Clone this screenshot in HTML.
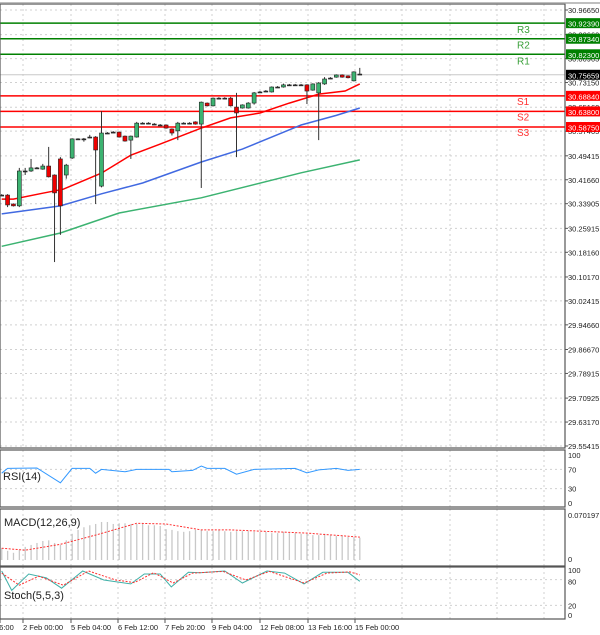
<!DOCTYPE html>
<html><head><meta charset="utf-8">
<style>
html,body{margin:0;padding:0;background:#fff;}
svg{display:block;font-family:"Liberation Sans",sans-serif;}
</style></head>
<body>
<svg id="c" width="600" height="635" viewBox="0 0 600 635" xmlns="http://www.w3.org/2000/svg"></svg>
<script>
// ---- data ----
const openP=[30.367,30.367,30.338,30.332,30.445,30.445,30.455,30.451,30.461,30.432,30.484,30.432,30.487,30.549,30.549,30.555,30.555,30.396,30.568,30.571,30.571,30.558,30.545,30.555,30.600,30.600,30.597,30.594,30.594,30.581,30.575,30.600,30.600,30.604,30.597,30.665,30.656,30.681,30.681,30.681,30.652,30.649,30.649,30.665,30.701,30.704,30.701,30.717,30.717,30.724,30.724,30.724,30.724,30.707,30.698,30.727,30.746,30.749,30.756,30.753,30.737,30.759];
const closeP=[30.367,30.335,30.332,30.445,30.445,30.455,30.455,30.461,30.426,30.374,30.332,30.464,30.549,30.549,30.549,30.555,30.513,30.568,30.568,30.571,30.555,30.542,30.558,30.600,30.600,30.600,30.597,30.594,30.584,30.568,30.600,30.600,30.600,30.597,30.668,30.656,30.681,30.681,30.681,30.656,30.633,30.659,30.665,30.698,30.701,30.704,30.717,30.717,30.724,30.724,30.724,30.724,30.704,30.727,30.730,30.743,30.746,30.756,30.749,30.747,30.766,30.759];
const highP=[30.370,30.370,30.340,30.455,30.455,30.484,30.458,30.468,30.523,30.434,30.490,30.468,30.551,30.551,30.552,30.562,30.558,30.639,30.571,30.574,30.573,30.560,30.560,30.604,30.603,30.603,30.600,30.597,30.596,30.583,30.604,30.603,30.603,30.606,30.670,30.667,30.683,30.684,30.684,30.685,30.698,30.661,30.668,30.701,30.704,30.707,30.719,30.720,30.728,30.727,30.727,30.727,30.726,30.729,30.733,30.749,30.749,30.758,30.758,30.755,30.768,30.779];
const lowP=[30.364,30.328,30.330,30.328,30.432,30.442,30.452,30.449,30.424,30.150,30.238,30.420,30.484,30.546,30.540,30.551,30.338,30.392,30.565,30.568,30.553,30.540,30.484,30.553,30.597,30.597,30.594,30.591,30.582,30.560,30.545,30.597,30.597,30.595,30.390,30.654,30.654,30.678,30.678,30.654,30.490,30.647,30.647,30.660,30.698,30.701,30.699,30.714,30.715,30.721,30.721,30.721,30.662,30.705,30.545,30.724,30.743,30.747,30.747,30.745,30.735,30.756];
const maRedIdx=[0,2,7,10.5,17,22,27,34,39,44,49,54,58.5,61];
const maRedVal=[30.354,30.354,30.373,30.386,30.438,30.496,30.532,30.584,30.617,30.633,30.665,30.694,30.704,30.727];
const maBlueIdx=[0,10,17,24,34,41,51,57,61];
const maBlueVal=[30.306,30.332,30.371,30.406,30.474,30.516,30.594,30.625,30.649];
const maGreenIdx=[0,10,20,34,51,61];
const maGreenVal=[30.201,30.244,30.309,30.358,30.439,30.481];
const levelNames=["R3","R2","R1","S1","S2","S3"];
const levelVals=[30.9239,30.8734,30.8230,30.6884,30.6380,30.5875];
const currentPrice=30.75659;
const priceTicks=[30.96650,30.88660,30.80905,30.73150,30.65160,30.57405,30.49415,30.41660,30.33905,30.25915,30.18160,30.10170,30.02415,29.94660,29.86670,29.78915,29.70925,29.63170,29.55415];
const rsiIdx=[0,1,6,10,12,15,16,17,21,23,28.5,29,32.5,34,35,38,40,43,50,52,54,57,59,61];
const rsiVal=[62,72,73,42,72,72,62,70,65,70,70,65,68,77,72,72,60,70,72,63,69,72,68,70];
const macdHist=[0.018,0.014,0.011,0.015,0.020,0.023,0.026,0.029,0.030,0.026,0.023,0.030,0.040,0.046,0.050,0.053,0.055,0.058,0.058,0.055,0.056,0.056,0.055,0.055,0.055,0.053,0.053,0.052,0.047,0.046,0.044,0.043,0.044,0.046,0.046,0.044,0.044,0.046,0.044,0.043,0.044,0.044,0.044,0.043,0.043,0.043,0.041,0.041,0.043,0.041,0.041,0.040,0.040,0.038,0.038,0.040,0.038,0.037,0.037,0.035,0.035,0.034];
const macdSigIdx=[0,4,10,16,23,28,34,39,52,61];
const macdSigVal=[0.018,0.015,0.024,0.038,0.056,0.055,0.046,0.046,0.041,0.035];
const stMainIdx=[0,1.7,4.6,7.6,10.2,13.8,17.4,22,24.3,27,28.9,31.8,33.8,38,41,45.2,48.2,51.5,54.7,59,61];
const stMainVal=[100,55,93,84,60,100,79,70,93,93,63,97,96,100,72,100,95,70,97,97,76];
const stSigIdx=[0,3,6.3,10.5,14.8,19.4,22.6,25.9,29.2,32.5,37.7,41.6,45.6,51.5,55.4,59.3,61];
const stSigVal=[95,67,88,67,100,79,73,96,72,95,99,79,99,72,95,98,91];
const timeLabels=["16:00","2 Feb 00:00","5 Feb 04:00","6 Feb 12:00","7 Feb 20:00","9 Feb 04:00","12 Feb 08:00","13 Feb 16:00","15 Feb 00:00"];

// ---- geometry ----
const NS="http://www.w3.org/2000/svg";
const svg=document.getElementById('c');
const R=565;
const xI=i=>1.7+i*5.87;
const yP=p=>10+(30.9665-p)*308.7;
const yRsi=v=>503-v*0.48;
const yMacd=v=>560-v/0.070197*46;
const ySt=v=>614-v*0.43;
function mk(tag,attrs,parent){const e=document.createElementNS(NS,tag);for(const k in attrs)e.setAttribute(k,attrs[k]);(parent||svg).appendChild(e);return e;}
function txt(s,x,y,attrs){const t=mk('text',Object.assign({x:x,y:y},attrs||{}));t.textContent=s;return t;}

// grid
const gV=mk('g',{});


const vx=[23,71,118,165,212,260,308,355,402,450,497,544];
vx.forEach(x=>{[[4,448],[450,507],[509,566],[567,619]].forEach(r=>mk('line',{x1:x,x2:x,y1:r[0],y2:r[1],stroke:'#d0d0d0','stroke-dasharray':'2,3','stroke-width':1},gV));});
priceTicks.forEach(p=>mk('line',{x1:0,x2:R,y1:yP(p),y2:yP(p),stroke:'#d0d0d0','stroke-dasharray':'2,3'},gV));
[70,30].forEach(v=>mk('line',{x1:0,x2:R,y1:yRsi(v),y2:yRsi(v),stroke:'#d0d0d0','stroke-dasharray':'2,3'},gV));
[80,20].forEach(v=>mk('line',{x1:0,x2:R,y1:ySt(v),y2:ySt(v),stroke:'#d0d0d0','stroke-dasharray':'2,3'},gV));

// level lines
levelVals.forEach((v,k)=>{
  const isR=levelNames[k][0]==='R';
  const col=isR?'#008000':'#ff0000';
  const l=mk('line',{x1:0,x2:R,y1:yP(v),y2:yP(v),stroke:col,'stroke-width':1.5});
  
  
  const t=txt(levelNames[k],517,yP(v)+(isR?10:9),{'font-size':10,fill:isR?'#3aa03a':'#ff3030'});
  
  
});
mk('line',{x1:0,x2:R,y1:yP(currentPrice),y2:yP(currentPrice),stroke:'#c8c8c8','stroke-width':1});

// MAs
function poly(idx,val,col,name,w){let d=idx.map((i,k)=>(k?'L':'M')+xI(i).toFixed(1)+','+yP(val[k]).toFixed(1)).join('');const p=mk('path',{d:d,fill:'none',stroke:col,'stroke-width':w});}
poly(maGreenIdx,maGreenVal,'#3cb371','ma-green',1.5);
poly(maBlueIdx,maBlueVal,'#4169e1','ma-blue',1.5);
poly(maRedIdx,maRedVal,'#ff0000','ma-red',1.5);

// candles
const gc=mk('g',{});


openP.forEach((o,i)=>{
  const x=xI(i),c=closeP[i];
  mk('line',{x1:x,x2:x,y1:yP(highP[i]),y2:yP(lowP[i]),stroke:'#333','stroke-width':1},gc);
  const top=yP(Math.max(o,c)),bot=yP(Math.min(o,c));
  const h=Math.max(bot-top,1);
  const b=mk('rect',{x:x-2,y:top,width:4,height:h,fill:c>o?'#3cb371':(c<o?'#ee0000':'#333'),stroke:'#222','stroke-width':0.6},gc);
  
  
});

// frames
[[4,448],[450,507],[509,566],[567,619]].forEach((r,k)=>{
  const f=mk('rect',{x:0,y:r[0],width:R,height:r[1]-r[0],fill:'none',stroke:'#555','stroke-width':1.2});
  
  
});
mk('line',{x1:0,x2:600,y1:3,y2:3,stroke:'#aaa','stroke-width':1.5});

// price axis labels
priceTicks.forEach(p=>{mk('line',{x1:R,x2:R+3,y1:yP(p),y2:yP(p),stroke:'#555'});const t=txt(p.toFixed(5),568,yP(p)+3,{'font-size':7.5,fill:'#222'});});
function tag(v,bg){const y=yP(v);mk('rect',{x:566,y:y-5,width:34,height:10,fill:bg});const t=txt(v.toFixed(5),568,y+3.5,{'font-size':7.5,fill:'#fff'});}
levelVals.forEach((v,k)=>tag(v,levelNames[k][0]==='R'?'#008000':'#ff0000'));
tag(currentPrice,'#000');

// RSI
{let d=rsiIdx.map((i,k)=>(k?'L':'M')+xI(i).toFixed(1)+','+yRsi(rsiVal[k]).toFixed(1)).join('');const p=mk('path',{d:d,fill:'none',stroke:'#3399ff','stroke-width':1});}
txt('RSI(14)',3,480,{'font-size':11,fill:'#222'});
[[100,'100'],[70,'70'],[30,'30'],[0,'0']].forEach(a=>txt(a[1],568,yRsi(a[0])+3,{'font-size':7.5,fill:'#222'}));

// MACD
macdHist.forEach((v,i)=>{const r=mk('rect',{x:xI(i)-0.6,y:yMacd(v),width:1.3,height:yMacd(0)-yMacd(v),fill:'#c8c8c8'});});
{let d=macdSigIdx.map((i,k)=>(k?'L':'M')+xI(i).toFixed(1)+','+yMacd(macdSigVal[k]).toFixed(1)).join('');const p=mk('path',{d:d,fill:'none',stroke:'#ff3030','stroke-width':1,'stroke-dasharray':'2,1.5'});}
txt('MACD(12,26,9)',4,526,{'font-size':11,fill:'#222'});
txt('0.070197',568,518,{'font-size':7.5,fill:'#222'});
txt('0',568,562,{'font-size':7.5,fill:'#222'});

// Stoch
{let d=stMainIdx.map((i,k)=>(k?'L':'M')+xI(i).toFixed(1)+','+ySt(stMainVal[k]).toFixed(1)).join('');const p=mk('path',{d:d,fill:'none',stroke:'#40b0a8','stroke-width':1});}
{let d=stSigIdx.map((i,k)=>(k?'L':'M')+xI(i).toFixed(1)+','+ySt(stSigVal[k]).toFixed(1)).join('');const p=mk('path',{d:d,fill:'none',stroke:'#ff3030','stroke-width':1,'stroke-dasharray':'2,1.5'});}
txt('Stoch(5,5,3)',4,599,{'font-size':11,fill:'#222'});
[[100,'100',-1],[80,'80',2],[20,'20',0],[0,'0',1]].forEach(a=>txt(a[1],568,ySt(a[0])+3+a[2],{'font-size':7.5,fill:'#222'}));

// time axis
const tx=[0,23,71,118,165,212,260,308,355];
timeLabels.forEach((s,k)=>{mk('line',{x1:tx[k],x2:tx[k],y1:619,y2:623,stroke:'#555'});const t=txt(s,k?tx[k]:-5,630,{'font-size':7.5,fill:'#222'});});
</script>
</body></html>
